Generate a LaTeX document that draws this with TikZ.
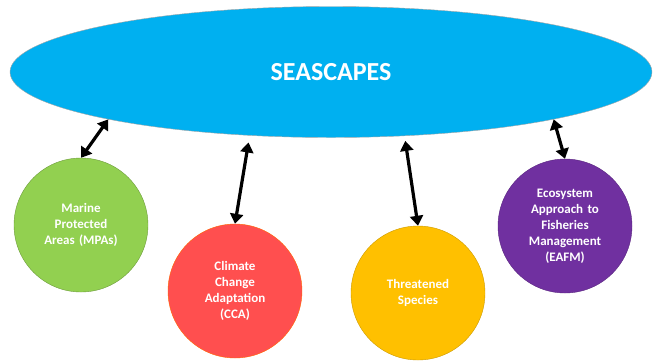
\documentclass[tikz,border=0pt]{standalone}
\usepackage{fontspec}
\setmainfont{Carlito}
\usetikzlibrary{positioning,shapes.geometric,arrows.meta}

\definecolor{seablue}{HTML}{00B0F0}
\definecolor{mpagreen}{HTML}{92D050}
\definecolor{ccared}{HTML}{FF4F4F}
\definecolor{tsorange}{HTML}{FFC000}
\definecolor{eafmpurple}{HTML}{7030A0}

\tikzset{
  topic/.style={circle, minimum size=134pt, inner sep=0pt, text width=110pt,
    align=center, text=white, font=\bfseries\fontsize{13}{16}\selectfont, thin},
  link/.style={line width=3.2pt, {Triangle[length=10pt,width=13pt]}-{Triangle[length=10pt,width=13pt]}}
}

\begin{document}
\begin{tikzpicture}[x=1pt, y=-1pt]
  \useasboundingbox (0,0) rectangle (653,360);

  \node[ellipse, fill=seablue, draw=gray!70, minimum width=642pt, minimum height=131pt,
    inner sep=0pt, text=white, font=\bfseries\fontsize{26}{30}\selectfont] (sea) at (331,72) {SEASCAPES};

  \node[topic, fill=mpagreen, draw=mpagreen!75!black] (mpa) at (81,225) {Marine\\Protected\\Areas (MPAs)};
  \node[topic, fill=ccared, draw=orange!80!red] (cca) at (235,291) {Climate\\Change\\Adaptation\\(CCA)};
  \node[topic, fill=tsorange, draw=tsorange!80!black] (ts) at (418,293) {Threatened\\Species};
  \node[topic, fill=eafmpurple, draw=eafmpurple!80!black] (eafm) at (565,226) {Ecosystem\\Approach to\\Fisheries\\Management\\(EAFM)};

  \draw[link] (mpa.north) -- (sea.192);
  \draw[link, shorten >=7pt] (cca.north) -- (sea.218);
  \draw[link, shorten >=5pt] (ts.north) -- (sea.319);
  \draw[link] (eafm.north) -- (sea.348);
\end{tikzpicture}
\end{document}
